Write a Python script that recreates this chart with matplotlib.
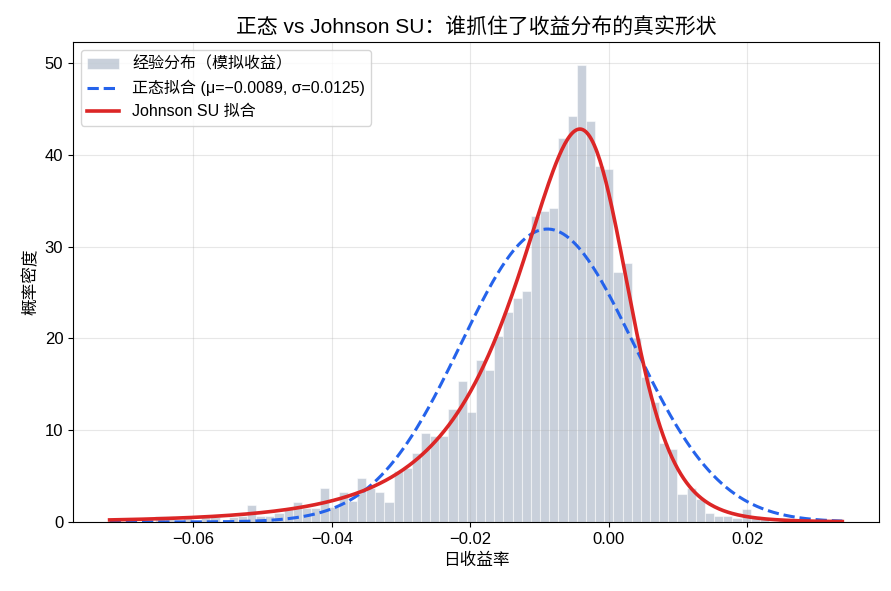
import matplotlib.pyplot as plt
import numpy as np

plt.rcParams['font.family'] = ['Liberation Sans', 'Noto Sans CJK SC', 'DejaVu Sans']
plt.rcParams['axes.unicode_minus'] = True

# данные гистограммы (плотность), 80 бинов от min до max доходности
ret_min, ret_max = -0.0721, 0.0337
density = [0.3, 0, 0, 0, 0, 0.7, 0.7, 0, 0.5, 0,
           0.5, 0.5, 0, 0.5, 0.7, 1.8, 0.7, 0.7, 1.0, 1.4,
           2.2, 1.5, 1.5, 3.7, 1.6, 3.3, 2.3, 4.8, 3.7, 3.3,
           2.2, 5.6, 5.9, 7.5, 9.7, 9.4, 9.4, 12.3, 15.4, 12.0,
           17.6, 16.6, 20.3, 22.9, 24.4, 25.2, 33.3, 33.9, 34.2, 41.8,
           44.2, 49.8, 43.7, 38.8, 38.5, 27.2, 28.2, 20.0, 15.8, 13.1,
           8.6, 7.9, 3.0, 3.7, 2.5, 1.0, 0.7, 0.7, 0.4, 1.4,
           0.6, 0.3, 0, 0.3, 0, 0, 0, 0, 0, 0.3]

# параметры подгонки
mu, sigma = -0.0089, 0.0125
jsu_a, jsu_b, jsu_loc, jsu_scale = 0.95, 1.4, 0.00115, 0.01124

edges = np.linspace(ret_min, ret_max, len(density) + 1)
width = edges[1] - edges[0]

x = np.linspace(ret_min, ret_max, 500)
normal_pdf = np.exp(-0.5 * ((x - mu) / sigma) ** 2) / (sigma * np.sqrt(2 * np.pi))
z = (x - jsu_loc) / jsu_scale
jsu_pdf = jsu_b / (jsu_scale * np.sqrt(2 * np.pi)) / np.sqrt(1 + z ** 2) * \
    np.exp(-0.5 * (jsu_a + jsu_b * np.arcsinh(z)) ** 2)

fig = plt.figure(figsize=(8.91, 5.91), dpi=100)
ax = fig.add_axes([0.0819, 0.1168, 0.9046, 0.8121])

bars = ax.bar(edges[:-1], density, width=width, align='edge', color='#94a3b8', alpha=0.5,
              edgecolor='white', linewidth=0.8, label='经验分布（模拟收益）')
l1, = ax.plot(x, normal_pdf, color='#2563eb', linestyle='--', linewidth=2.2,
              label=f'正态拟合 (μ={mu:.4f}, σ={sigma:.4f})'.replace('-', '−'))
l2, = ax.plot(x, jsu_pdf, color='#dc2626', linewidth=2.6, label='Johnson SU 拟合')

ax.set_title('正态 vs Johnson SU：谁抓住了收益分布的真实形状', fontsize=15)
ax.set_xlabel('日收益率', fontsize=12)
ax.set_ylabel('概率密度', fontsize=12)
ax.tick_params(labelsize=12)
ax.grid(True, alpha=0.3)
ax.legend(handles=[bars, l1, l2], loc='upper left', fontsize=11.5)

fig.savefig('out.png')
